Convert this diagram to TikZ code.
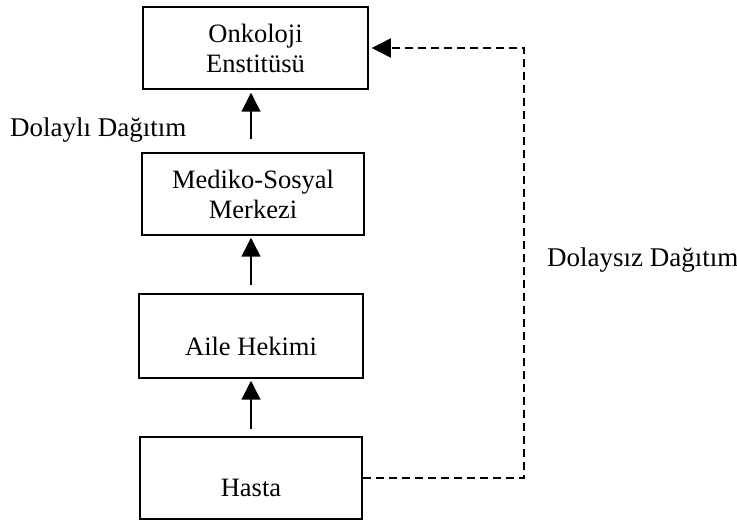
\documentclass[tikz,border=0pt]{standalone}
\usepackage{fontspec}
\setmainfont{Liberation Serif}
\usetikzlibrary{arrows.meta}
% single-line entries sit a little below the middle of their box
\newcommand{\lowtext}[1]{\raisebox{-10pt}[\height][\depth]{#1}}
\begin{document}
\begin{tikzpicture}[x=1pt,y=1pt,
  unit/.style={draw, line width=1.5pt, align=center, inner sep=0pt,
    font=\fontsize{26.5}{30}\selectfont},
  flow/.style={line width=1.5pt, -{Triangle[width=19pt,length=19pt]}},
  direct/.style={line width=1.4pt, dash pattern=on 8pt off 5pt,
    -{Triangle[width=19pt,length=19pt]}},
  caption/.style={font=\fontsize{27}{30}\selectfont, inner sep=0pt}]
\useasboundingbox (0,0) rectangle (737,520);
% boxes of the referral chain
\node[unit, minimum width=225pt, minimum height=82pt] (onk) at (255.5,472) {Onkoloji\\Enstitüsü};
\node[unit, minimum width=222pt, minimum height=82pt] (msm) at (253,326) {Mediko-Sosyal\\Merkezi};
\node[unit, minimum width=224pt, minimum height=84pt] (aile) at (251,184) {\lowtext{Aile Hekimi}};
\node[unit, minimum width=222pt, minimum height=82pt] (hasta) at (251,42) {\lowtext{Hasta}};
% indirect route, step by step
\draw[flow, shorten <=7pt, shorten >=2pt] (hasta.north -| 251,0) -- (aile.south -| 251,0);
\draw[flow, shorten <=8pt, shorten >=2pt] (aile.north -| 251,0) -- (msm.south -| 251,0);
\draw[flow, shorten <=13pt, shorten >=3pt] (msm.north -| 251,0) -- (onk.south -| 251,0);
% direct route
\coordinate (turn) at (524,0);
\draw[direct, shorten >=3pt] (hasta.east) -| (turn |- onk.east) -- (onk.east);
% route labels
\node[caption, anchor=base west] (lblind) at (10,383) {Dolaylı Dağıtım};
\node[caption, anchor=base west] (lbldir) at (547,253) {Dolaysız Dağıtım};
\end{tikzpicture}
\end{document}
